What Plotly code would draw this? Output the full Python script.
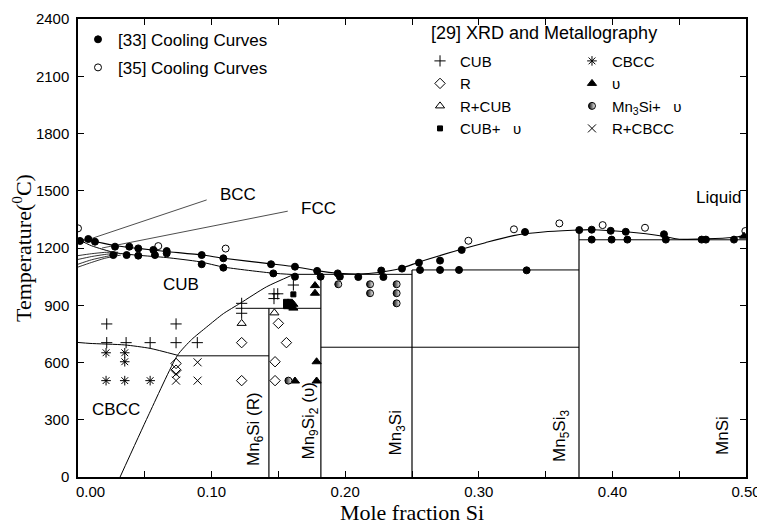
import plotly.graph_objects as go

# ---------------- phase-boundary lines (mole fraction Si, temperature degC) ----------------
liq_x = [0.0, 0.01, 0.028, 0.045, 0.066, 0.093, 0.109, 0.1445, 0.1624, 0.18, 0.195, 0.21, 0.225,
         0.242, 0.256, 0.287, 0.305, 0.326, 0.35, 0.375, 0.385, 0.41, 0.438, 0.45, 0.47, 0.49, 0.5]
liq_t = [1246, 1238, 1212, 1198, 1182, 1163, 1146, 1117, 1102, 1080, 1068, 1064, 1072,
         1094, 1128, 1193, 1228, 1265, 1285, 1294, 1296, 1285, 1262, 1246, 1248, 1255, 1266]

sol_x = [0.0, 0.01, 0.028, 0.045, 0.066, 0.091, 0.109, 0.146, 0.161]
sol_t = [1246, 1212, 1175, 1162, 1150, 1128, 1100, 1068, 1061]

edge1_x = [0.0, 0.01, 0.02, 0.03]
edge1_t = [1160, 1170, 1177, 1178]
edge2_x = [0.0, 0.01, 0.02, 0.03]
edge2_t = [1140, 1155, 1166, 1174]
edge3_x = [0.0, 0.01, 0.02, 0.03]
edge3_t = [1115, 1138, 1154, 1168]
edge4_x = [0.0, 0.01, 0.02, 0.032]
edge4_t = [1100, 1124, 1146, 1163]

bcc_lead_x = [0.003, 0.0963]
bcc_lead_t = [1233, 1452]
fcc_lead_x = [0.018, 0.157]
fcc_lead_t = [1200, 1393]

cbcc_cub_x = [0.0, 0.009, 0.035, 0.054, 0.0745]
cbcc_cub_t = [705, 700, 692, 674, 638]

cub_solvus_x = [0.0315, 0.0525, 0.0745, 0.085, 0.0963, 0.1088, 0.1213, 0.1412, 0.161]
cub_solvus_t = [0, 320, 638, 720, 786, 856, 910, 997, 1060]

# invariant horizontals
h635_x = [0.0745, 0.1429]
h635_t = [635, 635]
h884_x = [0.118, 0.1818]
h884_t = [884, 884]
h1062_x = [0.161, 0.25]
h1062_t = [1062, 1062]
h1085_x = [0.25, 0.375]
h1085_t = [1085, 1085]
h1243_x = [0.375, 0.5]
h1243_t = [1243, 1243]
h680_x = [0.1818, 0.375]
h680_t = [680, 680]

# compound verticals
mn6si_x = [0.1429, 0.1429]
mn6si_t = [0, 884]
mn9si2_x = [0.1818, 0.1818]
mn9si2_t = [0, 1062]
mn3si_x = [0.25, 0.25]
mn3si_t = [0, 1085]
mn5si3_x = [0.375, 0.375]
mn5si3_t = [0, 1294]

# axis ticks (the 0.00 label is drawn nudged right, as in the original)
x_tickvals = [0.0, 0.1, 0.2, 0.3, 0.4, 0.5]
x_ticktext = ["", "0.10", "0.20", "0.30", "0.40", "0.50"]
x_first_label = "0.00"

# ---------------- experimental points ----------------
cc33_x = [0.0015, 0.0077, 0.0127, 0.0277, 0.0384, 0.0451, 0.0564, 0.0664,
          0.0264, 0.0364, 0.0451, 0.0576, 0.0664,
          0.0926, 0.0926, 0.1088, 0.1088, 0.1445, 0.1462, 0.1624, 0.1624, 0.179, 0.1816, 0.1944,
          0.196, 0.2098, 0.227, 0.2286, 0.2425, 0.2552, 0.256, 0.271, 0.271, 0.2852, 0.2872,
          0.3346, 0.3358, 0.3752, 0.3845, 0.3845, 0.3987, 0.3994, 0.41, 0.4112, 0.4386, 0.44,
          0.4668, 0.47, 0.491]
cc33_t = [1237, 1247, 1233, 1207, 1207, 1198, 1190, 1184,
          1163, 1163, 1160, 1163, 1172,
          1163, 1115, 1146, 1097, 1115, 1067, 1102, 1050, 1080, 1050, 1067,
          1050, 1048, 1082, 1048, 1092, 1123, 1085, 1134, 1085, 1085, 1190,
          1284, 1083, 1294, 1296, 1244, 1290, 1244, 1285, 1244, 1272, 1244,
          1244, 1244, 1244]

cc35_x = [0.0, 0.0601, 0.1105, 0.2922, 0.3263, 0.3603, 0.3927, 0.4244, 0.4995]
cc35_t = [1303, 1210, 1197, 1238, 1298, 1329, 1320, 1306, 1289]

cub_x = [0.0215, 0.0734, 0.0215, 0.036, 0.054, 0.0734, 0.0893, 0.1225, 0.1225, 0.1467, 0.1495, 0.1467, 0.1612]
cub_t = [802, 802, 704, 704, 704, 704, 704, 910, 858, 960, 960, 935, 1006]

r_x = [0.1225, 0.1225, 0.150, 0.156, 0.1475, 0.1475, 0.0734, 0.0734]
r_t = [704, 505, 805, 704, 604, 505, 595, 560]

rcub_x = [0.1225, 0.147]
rcub_t = [805, 860]

cubu_x = [0.1612, 0.1557, 0.1557, 0.1587, 0.1587]
cubu_t = [957, 918, 895, 918, 895]

cbcc_x = [0.021, 0.035, 0.035, 0.021, 0.035, 0.054]
cbcc_t = [651, 651, 604, 505, 505, 505]

u_x = [0.1774, 0.1774, 0.1612, 0.1612, 0.1786, 0.1786, 0.1624, 0.4985]
u_t = [1003, 963, 905, 885, 604, 503, 503, 1262]

mn3siu_x = [0.1948, 0.2186, 0.2186, 0.2385, 0.2385, 0.2385, 0.1575]
mn3siu_t = [1010, 1010, 963, 1010, 963, 910, 505]

rcbcc_x = [0.0734, 0.0734, 0.0895, 0.0895]
rcbcc_t = [540, 505, 601, 505]

SANS = "Liberation Sans, Arial, sans-serif"
SERIF = "Liberation Serif, Times New Roman, serif"

fig = go.Figure()

def line(xs, ts, w=1.0, shape="linear"):
    fig.add_trace(go.Scatter(x=xs, y=ts, mode="lines",
                             line=dict(color="black", width=w, shape=shape,
                                       smoothing=0.6 if shape == "spline" else None),
                             showlegend=False, hoverinfo="skip"))

line(liq_x, liq_t, 1.1, "spline")
line(sol_x, sol_t, 1.0, "spline")
for ex, et in [(edge1_x, edge1_t), (edge2_x, edge2_t), (edge3_x, edge3_t), (edge4_x, edge4_t)]:
    line(ex, et, 0.8, "spline")
line(bcc_lead_x, bcc_lead_t, 0.7)
line(fcc_lead_x, fcc_lead_t, 0.7)
line(cbcc_cub_x, cbcc_cub_t, 1.0, "spline")
line(cub_solvus_x, cub_solvus_t, 1.0, "spline")
for hx, ht in [(h635_x, h635_t), (h884_x, h884_t), (h1062_x, h1062_t), (h1085_x, h1085_t),
               (h1243_x, h1243_t), (h680_x, h680_t)]:
    line(hx, ht, 1.0)
for vx, vt in [(mn6si_x, mn6si_t), (mn9si2_x, mn9si2_t), (mn3si_x, mn3si_t), (mn5si3_x, mn5si3_t)]:
    line(vx, vt, 1.2)

def pts(xs, ts, name, legend, sym, size, **kw):
    mk = dict(symbol=sym, size=size, color="black", line=dict(color="black", width=1))
    mk.update(kw)
    fig.add_trace(go.Scatter(x=xs, y=ts, mode="markers", name=name, marker=mk,
                             legend=legend, legendgroup=name, hoverinfo="skip"))

pts(cc33_x, cc33_t, "[33] Cooling Curves", "legend", "circle", 7)
pts(cc35_x, cc35_t, "[35] Cooling Curves", "legend", "circle-open", 7)
pts(cub_x, cub_t, "CUB", "legend2", "cross-thin-open", 8)
pts(r_x, r_t, "R", "legend2", "diamond-open", 8)
pts(rcub_x, rcub_t, "R+CUB", "legend2", "triangle-up-open", 8)
pts(cubu_x, cubu_t, "CUB+\u00a0\u00a0\u00a0υ", "legend2", "square", 5)
pts(cbcc_x, cbcc_t, "CBCC", "legend3", "asterisk-open", 8)
pts(u_x, u_t, "υ", "legend3", "triangle-up", 8)
pts(mn3siu_x, mn3siu_t, "Mn<sub>3</sub>Si+\u00a0\u00a0\u00a0υ", "legend3", "circle", 7,
    gradient=dict(type="horizontal", color="white"))
pts(rcbcc_x, rcbcc_t, "R+CBCC", "legend3", "x-thin-open", 8)

ann = [
    dict(text="BCC", x=0.1198, y=1478),
    dict(text="FCC", x=0.180, y=1406),
    dict(text="CUB", x=0.0771, y=1011),
    dict(text="CBCC", x=0.0283, y=355),
    dict(text="Liquid", x=0.4975, y=1467, xanchor="right"),
    dict(text="Mn<sub>6</sub>Si (R)", x=0.133, y=250, textangle=-90),
    dict(text="Mn<sub>9</sub>Si<sub>2</sub> (υ)", x=0.1735, y=295, textangle=-90),
    dict(text="Mn<sub>3</sub>Si", x=0.239, y=230, textangle=-90),
    dict(text="Mn<sub>5</sub>Si<sub>3</sub>", x=0.3615, y=215, textangle=-90),
    dict(text="MnSi", x=0.482, y=220, textangle=-90),
]
for a in ann:
    a.setdefault("xanchor", "center")
    fig.add_annotation(xref="x", yref="y", showarrow=False, yanchor="middle",
                       font=dict(family=SANS, size=17, color="black"), **a)

# header of the XRD legend block
fig.add_annotation(xref="paper", yref="paper", x=0.5254, y=0.9694, xanchor="left",
                   yanchor="middle", showarrow=False, text="[29] XRD and Metallography",
                   font=dict(family=SANS, size=18, color="black"))

# first x tick label, nudged right of the y=0 label
fig.add_annotation(xref="x", yref="paper", x=x_tickvals[0], y=0, xanchor="center",
                   yanchor="top", xshift=12, yshift=-4, showarrow=False,
                   text=x_first_label, font=dict(family=SANS, size=15, color="black"))

axis_common = dict(showline=True, linewidth=1.5, linecolor="black", mirror="ticks",
                   ticks="inside", ticklen=6, tickwidth=1, tickcolor="black",
                   showgrid=False, zeroline=False, automargin=False,
                   tickfont=dict(family=SANS, size=15, color="black"))

fig.update_layout(
    width=757, height=517,
    margin=dict(l=70, r=19, t=11, b=48),
    paper_bgcolor="white", plot_bgcolor="white",
    xaxis=dict(range=[0, 0.5], tickvals=x_tickvals, ticktext=x_ticktext,
               minor=dict(dtick=0.05, ticks="inside", ticklen=6, tickcolor="black"),
               ticklabelstandoff=0,
               title=dict(text="Mole fraction Si", font=dict(family=SERIF, size=22, color="black"),
                          standoff=0),
               **axis_common),
    yaxis=dict(range=[0, 2400], dtick=300, tick0=0, ticklabelstandoff=4,
               title=dict(text="Temperature(<sup>0</sup>C)",
                          font=dict(family=SERIF, size=22, color="black"), standoff=0),
               **axis_common),
    legend=dict(x=0.0, y=0.994, xanchor="left", yanchor="top", bgcolor="rgba(0,0,0,0)",
                font=dict(family=SANS, size=17, color="black"), traceorder="grouped",
                tracegroupgap=3, itemclick=False),
    legend2=dict(x=0.512, y=0.944, xanchor="left", yanchor="top", bgcolor="rgba(0,0,0,0)",
                 font=dict(family=SANS, size=15, color="black"), tracegroupgap=0),
    legend3=dict(x=0.7395, y=0.944, xanchor="left", yanchor="top", bgcolor="rgba(0,0,0,0)",
                 font=dict(family=SANS, size=15, color="black"), tracegroupgap=0),
)

fig.write_html("out.html")
